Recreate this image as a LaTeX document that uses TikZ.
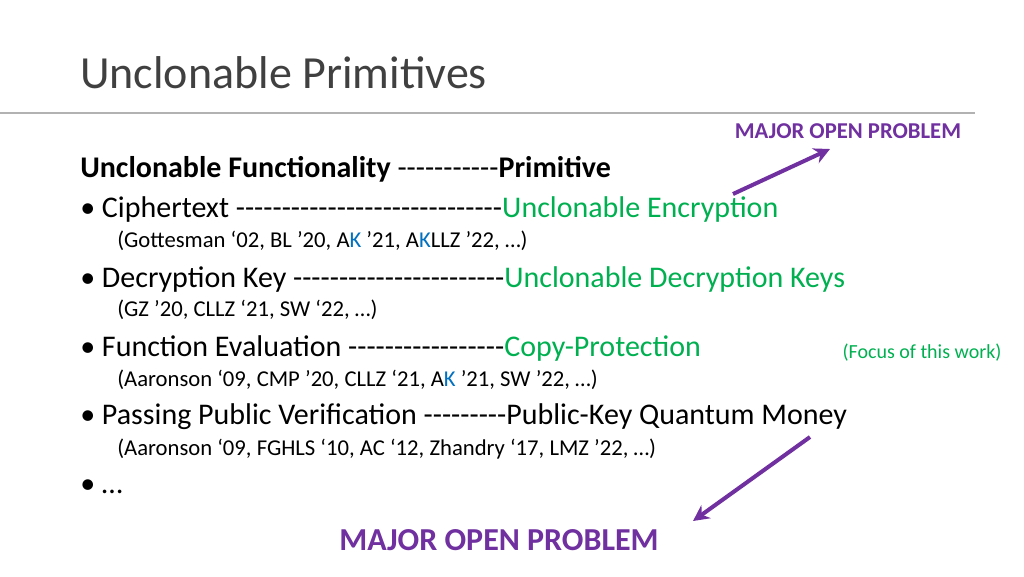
\documentclass[tikz,border=0pt]{standalone}
\usepackage{fontspec}
\usetikzlibrary{arrows.meta}
\setmainfont{Carlito}
\definecolor{grn}{RGB}{0,176,80}
\definecolor{purp}{RGB}{112,48,160}
\definecolor{kblue}{RGB}{0,112,192}
\newcommand\rep[1]{\ifnum#1>0 -\kern0pt\expandafter\rep\expandafter{\the\numexpr#1-1\relax}\fi}
\begin{document}
\begin{tikzpicture}[x=0.75pt,y=-0.75pt,
  body/.style={anchor=west,inner sep=0pt,font=\fontsize{22.5}{26}\selectfont},
  refs/.style={anchor=west,inner sep=0pt,font=\fontsize{17}{20}\selectfont},
  parrow/.style={draw=purp,line width=3pt,-{Stealth[length=12pt,width=12pt]}}]
\useasboundingbox (0,0) rectangle (1024,576);
\node[anchor=west,inner sep=0pt,font=\fontsize{34.5}{38}\selectfont,text=black!75] (title) at (80,73) {Unclonable Primitives};
\draw[gray!60,line width=0.8pt] (0,113) -- (975,113);
\node[body] (h) at (80,169) {\textbf{Unclonable Functionality} \rep{11} \textbf{Primitive}};
\node[body] (l1) at (80,209) {• Ciphertext \rep{29} \textcolor{grn}{Unclonable Encryption}};
\node[refs] (r1) at (117,241) {(Gottesman ‘02, BL ’20, A\textcolor{kblue}{K} ’21, A\textcolor{kblue}{K}LLZ ’22, …)};
\node[body] (l2) at (80,279) {• Decryption Key \rep{23} \textcolor{grn}{Unclonable Decryption Keys}};
\node[refs] (r2) at (117,310) {(GZ ’20, CLLZ ‘21, SW ‘22, …)};
\node[body] (l3) at (80,348) {• Function Evaluation \rep{17} \textcolor{grn}{Copy-Protection}};
\node[refs] (r3) at (117,380) {(Aaronson ‘09, CMP ’20, CLLZ ‘21, A\textcolor{kblue}{K} ’21, SW ’22, …)};
\node[body] (l4) at (80,417) {• Passing Public Verification \rep{9} Public-Key Quantum Money};
\node[refs] (r4) at (117,449) {(Aaronson ‘09, FGHLS ‘10, AC ‘12, Zhandry ‘17, LMZ ’22, …)};
\node[body] (l5) at (80,487) {• …};
\node[inner sep=0pt,font=\fontsize{15}{18}\selectfont,text=grn] (focus) at (922,353) {(Focus of this work)};
\node[inner sep=0pt,font=\bfseries\fontsize{17}{20}\selectfont,text=purp] (mop1) at (848,131) {MAJOR OPEN PROBLEM};
\node[inner sep=0pt,font=\bfseries\fontsize{24}{27}\selectfont,text=purp] (mop2) at (499,540) {MAJOR OPEN PROBLEM};
\coordinate (a1s) at (733,194);
\coordinate (a1e) at (830,149);
\coordinate (a2s) at (810,437);
\coordinate (a2e) at (693,521);
\draw[parrow] (a1s) -- (a1e);
\draw[parrow] (a2s) -- (a2e);
\end{tikzpicture}
\end{document}
